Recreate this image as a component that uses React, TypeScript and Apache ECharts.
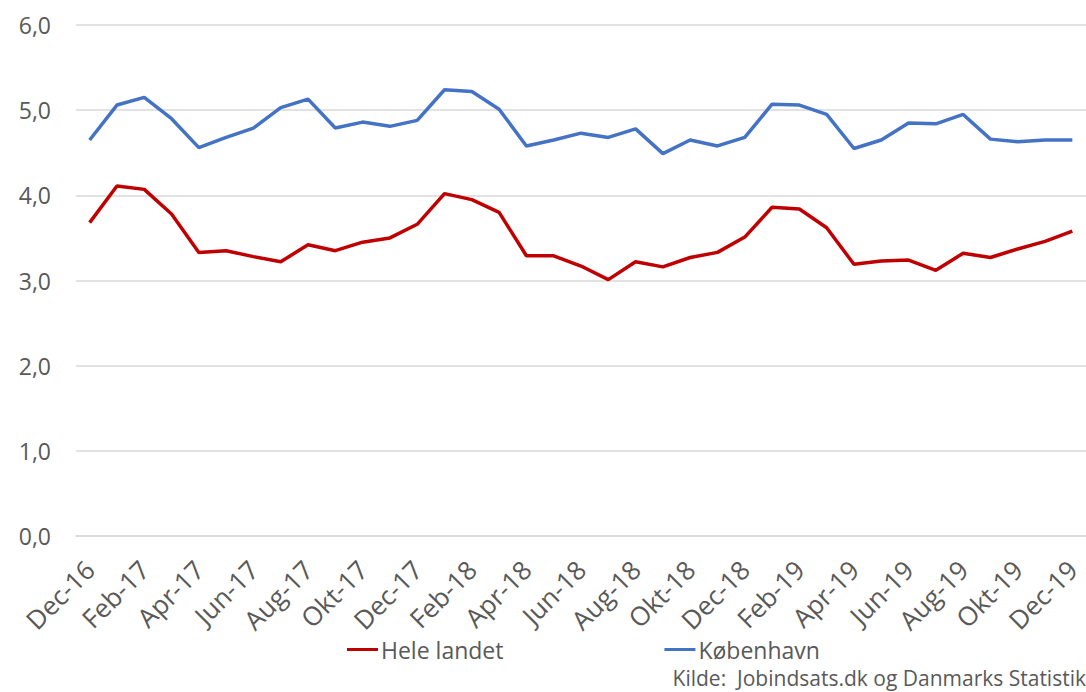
import React, { useEffect, useRef } from "react";
import * as echarts from "echarts";

const categories = [
  "Dec-16",
  "Jan-17", "Feb-17", "Mar-17", "Apr-17", "Maj-17", "Jun-17", "Jul-17", "Aug-17", "Sep-17", "Okt-17", "Nov-17", "Dec-17",
  "Jan-18", "Feb-18", "Mar-18", "Apr-18", "Maj-18", "Jun-18", "Jul-18", "Aug-18", "Sep-18", "Okt-18", "Nov-18", "Dec-18",
  "Jan-19", "Feb-19", "Mar-19", "Apr-19", "Maj-19", "Jun-19", "Jul-19", "Aug-19", "Sep-19", "Okt-19", "Nov-19", "Dec-19",
];

const heleLandet = [
  3.68, 4.11, 4.07, 3.78, 3.33, 3.35, 3.28, 3.22, 3.42, 3.35, 3.45, 3.5, 3.66,
  4.02, 3.95, 3.8, 3.29, 3.29, 3.17, 3.01, 3.22, 3.16, 3.27, 3.33, 3.51,
  3.86, 3.84, 3.62, 3.19, 3.23, 3.24, 3.12, 3.32, 3.27, 3.37, 3.46, 3.58,
];

const koebenhavn = [
  4.65, 5.06, 5.15, 4.9, 4.56, 4.68, 4.79, 5.03, 5.13, 4.79, 4.86, 4.81, 4.88,
  5.24, 5.22, 5.01, 4.58, 4.65, 4.73, 4.68, 4.78, 4.49, 4.65, 4.58, 4.68,
  5.07, 5.06, 4.95, 4.55, 4.65, 4.85, 4.84, 4.95, 4.66, 4.63, 4.65, 4.65,
];

const seriesNames = ["Hele landet", "København"];
const sourceText = "Kilde:  Jobindsats.dk og Danmarks Statistik";

const FONT = "'Open Sans', sans-serif";
const TEXT = "#595959";

export default function App() {
  const ref = useRef<HTMLDivElement>(null);

  useEffect(() => {
    if (!ref.current) return;
    const chart = echarts.init(ref.current, null, { renderer: "svg" });
    chart.setOption({
      animation: false,
      backgroundColor: "#ffffff",
      textStyle: { fontFamily: FONT },
      grid: { left: 76, right: -4, top: 25, bottom: 156, containLabel: false },
      legend: {
        left: 342,
        top: 633,
        icon: "rect",
        itemWidth: 31,
        itemHeight: 3,
        itemGap: 161,
        data: seriesNames,
        textStyle: { color: TEXT, fontSize: 23, fontFamily: FONT, padding: [0, 0, 0, -2] },
      },
      graphic: [
        {
          type: "text",
          right: 0,
          top: 667,
          style: { text: sourceText, fill: TEXT, font: `21px ${FONT}`, lineHeight: 21 },
        },
      ],
      xAxis: {
        type: "category",
        data: categories,
        boundaryGap: true,
        axisLine: { lineStyle: { color: "#d9d9d9", width: 1.5 } },
        axisTick: { interval: 0, length: 8, lineStyle: { color: "#d9d9d9", width: 1.5 } },
        axisLabel: {
          interval: 1,
          rotate: 45,
          margin: 29,
          color: TEXT,
          fontSize: 26,
          fontFamily: FONT,
        },
      },
      yAxis: {
        type: "value",
        min: 0,
        max: 6,
        interval: 1,
        axisLine: { show: false },
        axisTick: { show: false },
        splitLine: { lineStyle: { color: "#d9d9d9", width: 1.5 } },
        axisLabel: {
          margin: 25,
          color: TEXT,
          fontSize: 23,
          fontFamily: FONT,
          formatter: (v: number) => v.toFixed(1).replace(".", ","),
        },
      },
      series: [
        {
          name: seriesNames[0],
          type: "line",
          data: heleLandet,
          showSymbol: false,
          symbol: "none",
          lineStyle: { color: "#C00000", width: 3.5 },
          itemStyle: { color: "#C00000" },
        },
        {
          name: seriesNames[1],
          type: "line",
          data: koebenhavn,
          showSymbol: false,
          symbol: "none",
          lineStyle: { color: "#4472C4", width: 3.5 },
          itemStyle: { color: "#4472C4" },
        },
      ],
    });
    return () => chart.dispose();
  }, []);

  return (
    <div
      ref={ref}
      style={{ position: "fixed", left: 0, top: 0, width: 1086, height: 692, background: "#fff" }}
    />
  );
}
